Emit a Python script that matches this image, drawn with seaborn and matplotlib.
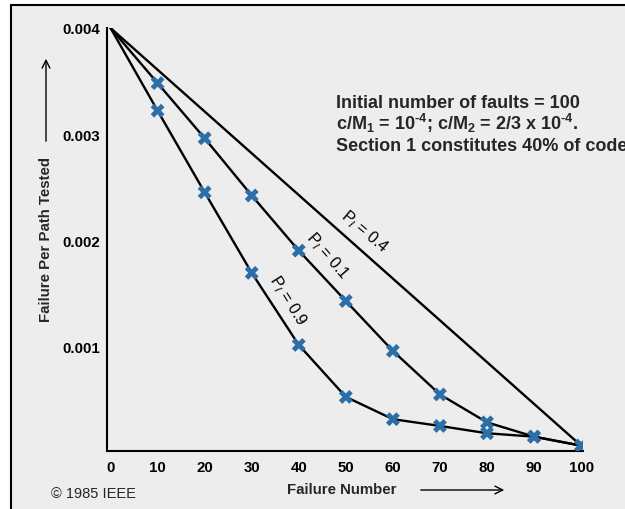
import matplotlib
matplotlib.use("Agg")
import matplotlib.pyplot as plt
from matplotlib.patches import Rectangle, FancyArrowPatch
import seaborn as sns
import pandas as pd

# ---- data ----
failure_number = [0, 10, 20, 30, 40, 50, 60, 70, 80, 90, 100]
p_09 = [0.004, 0.00322, 0.00245, 0.00169, 0.00101, 0.00052, 0.00031, 0.000246, 0.000177, 0.000145, 0.00006]
p_01 = [0.004, 0.00348, 0.00296, 0.00242, 0.00190, 0.001425, 0.000954, 0.000543, 0.00028, 0.000145, 0.00006]
p_04_x = [0, 100]
p_04 = [0.004, 0.00006]
x_ticks = [0, 10, 20, 30, 40, 50, 60, 70, 80, 90, 100]
y_ticks = [0.001, 0.002, 0.003, 0.004]
y_tick_labels = ["0.001", "0.002", "0.003", "0.004"]

sns.set_style("white")
plt.rcParams["font.family"] = ["Liberation Sans", "DejaVu Sans"]
plt.rcParams["mathtext.fontset"] = "custom"
plt.rcParams["mathtext.rm"] = "Liberation Sans:bold"
plt.rcParams["mathtext.it"] = "Liberation Sans:italic"
plt.rcParams["mathtext.bf"] = "Liberation Sans:bold"

curves = pd.concat([
    pd.DataFrame({"x": failure_number, "y": p_09, "s": "0.9"}),
    pd.DataFrame({"x": failure_number, "y": p_01, "s": "0.1"}),
    pd.DataFrame({"x": p_04_x, "y": p_04, "s": "0.4"}),
])
marks = pd.concat([
    pd.DataFrame({"x": failure_number[1:], "y": p_09[1:]}),
    pd.DataFrame({"x": failure_number[1:], "y": p_01[1:]}),
])

fig = plt.figure(figsize=(6.25, 5.1), dpi=100, facecolor="white")
fig.patches.append(Rectangle((11 / 625, -0.1), 1.2, 1.1 - 6 / 510,
                             transform=fig.transFigure, facecolor="#ededed",
                             edgecolor="black", linewidth=1.5, zorder=-10))

ax = fig.add_axes([107 / 625, (510 - 451.7) / 510, 476 / 625, 422.7 / 510])
ax.set_facecolor("none")

sns.lineplot(data=curves, x="x", y="y", units="s", estimator=None, sort=False,
             color="black", linewidth=1.7, ax=ax, legend=False)
sns.scatterplot(data=marks, x="x", y="y", marker="X", s=100, color="#2e6ea6",
                edgecolor="none", ax=ax, zorder=5, legend=False)

ax.set_xlim(-0.75, 100.4)
ax.set_ylim(0.0000125, 0.004)
for side in ["top", "right"]:
    ax.spines[side].set_visible(False)
for side in ["left", "bottom"]:
    ax.spines[side].set_color("black")
    ax.spines[side].set_linewidth(1.5)

ax.set_xticks(x_ticks)
ax.set_xticklabels([str(v) for v in x_ticks])
ax.set_yticks(y_ticks)
ax.set_yticklabels(y_tick_labels)
ax.tick_params(axis="x", direction="in", length=10, width=1.2, pad=6.5,
               labelsize=10.8, colors="black")
ax.tick_params(axis="y", direction="in", length=8.6, width=1.2, pad=5,
               labelsize=10.8, colors="black")
for lab in ax.get_xticklabels() + ax.get_yticklabels():
    lab.set_fontweight("bold")
ax.xaxis.get_major_ticks()[0].tick1line.set_visible(False)
ax.set_xlabel("")
ax.set_ylabel("")

# curve labels
lab_kw = dict(ha="center", va="center", fontsize=11.5, rotation_mode="anchor",
              color="black")
ax.text(54.1, 0.002085, r"P$_{\mathit{I}}$ = 0.4", rotation=-40, **lab_kw)
ax.text(46.0, 0.001858, r"P$_{\mathit{I}}$ = 0.1", rotation=-49, **lab_kw)
ax.text(37.7, 0.001431, r"P$_{\mathit{I}}$ = 0.9", rotation=-58, **lab_kw)

# annotation block
fx = 336 / 625
fig.text(fx, 1 - 108 / 510, "Initial number of faults = 100", fontsize=13,
         fontweight="bold", va="baseline")
fig.text(fx, 1 - 130 / 510,
         r"c/M$_\mathbf{1}$ = 10$^{\text{-4}}$; c/M$_\mathbf{2}$ = 2/3 x 10$^{\text{-4}}$.",
         fontsize=13, fontweight="bold", va="baseline")
fig.text(fx, 1 - 151 / 510, "Section 1 constitutes 40% of code", fontsize=13,
         fontweight="bold", va="baseline")

# axis labels
fig.text(46 / 625, 1 - 240 / 510, "Failure Per Path Tested", rotation=90,
         fontsize=10.8, fontweight="bold", ha="center", va="center")
fig.text(342 / 625, 1 - 490 / 510, "Failure Number", fontsize=10.8,
         fontweight="bold", ha="center", va="center")
fig.text(51 / 625, 1 - 494 / 510, "\u00a9 1985 IEEE", fontsize=10.5,
         ha="left", va="center")

# arrows
fig.patches.append(FancyArrowPatch(
    (46 / 625, 1 - 145 / 510), (46 / 625, 1 - 57 / 510), transform=fig.transFigure,
    arrowstyle="->", mutation_scale=14, color="black", linewidth=1.0))
fig.patches.append(FancyArrowPatch(
    (418 / 625, 1 - 491 / 510), (507 / 625, 1 - 491 / 510), transform=fig.transFigure,
    arrowstyle="->", mutation_scale=14, color="black", linewidth=1.0))

fig.savefig("out.png", dpi=100, facecolor="white")
